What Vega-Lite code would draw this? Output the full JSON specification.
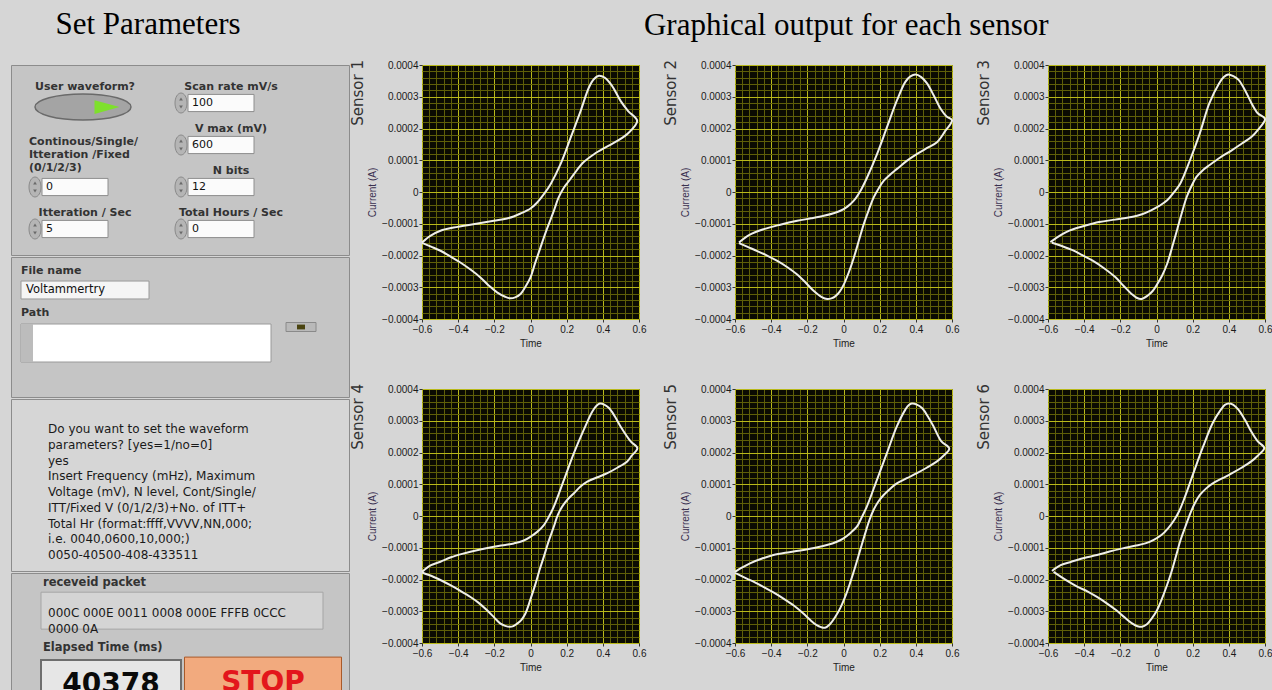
{
 "$schema": "https://vega.github.io/schema/vega-lite/v6.json",
 "background": "#d6d6d6",
 "padding": {"left": 10, "top": 8, "right": 0, "bottom": 0},
 "spacing": 0,
 "config": {
  "view": {"fill": "#0b0b02", "stroke": "#2a2a2a", "strokeWidth": 1},
  "axis": {"labelFont": "Liberation Sans Narrow, Liberation Sans, sans-serif", "labelFontSize": 10, "labelColor": "#1a1a1a", "titleFont": "Liberation Sans Narrow, Liberation Sans, sans-serif", "titleFontSize": 10, "titleFontWeight": "normal", "titleColor": "#222222", "tickSize": 3, "domain": false, "gridWidth": 1, "gridOpacity": 1, "labelPadding": 2, "titlePadding": 4},
  "axisY": {"titleColor": "#3a3050", "labelPadding": 1},
  "title": {"font": "Liberation Serif", "fontSize": 31, "fontWeight": "normal", "color": "#000000"}
 },
 "datasets": {
  "params": [
   {"col": "L", "slot": 1, "label": "User waveform?", "value": "on", "kind": "toggle"},
   {"col": "R", "slot": 1, "label": "Scan rate mV/s", "value": "100", "kind": "numeric"},
   {"col": "R", "slot": 2, "label": "V max (mV)", "value": "600", "kind": "numeric"},
   {"col": "L", "slot": 3, "label": "Continous/Single/\nItteration /Fixed\n(0/1/2/3)", "value": "0", "kind": "numeric"},
   {"col": "R", "slot": 3, "label": "N bits", "value": "12", "kind": "numeric"},
   {"col": "L", "slot": 4, "label": "Itteration / Sec", "value": "5", "kind": "numeric"},
   {"col": "R", "slot": 4, "label": "Total Hours / Sec", "value": "0", "kind": "numeric"}
  ],
  "files": [
   {"col": "L", "slot": 1, "label": "File name", "value": "Voltammertry", "kind": "string"},
   {"col": "L", "slot": 2, "label": "Path", "value": "", "kind": "path"},
   {"col": "R", "slot": 2, "label": "", "value": "", "kind": "browse"}
  ],
  "log": [
   {"col": "L", "line": 1, "text": "Do you want to set the waveform"},
   {"col": "L", "line": 2, "text": "parameters? [yes=1/no=0]"},
   {"col": "L", "line": 3, "text": "yes"},
   {"col": "L", "line": 4, "text": "Insert Frequency (mHz), Maximum"},
   {"col": "L", "line": 5, "text": "Voltage (mV), N level, Cont/Single/"},
   {"col": "L", "line": 6, "text": "ITT/Fixed V (0/1/2/3)+No. of ITT+"},
   {"col": "L", "line": 7, "text": "Total Hr (format:ffff,VVVV,NN,000;"},
   {"col": "L", "line": 8, "text": "i.e. 0040,0600,10,000;)"},
   {"col": "L", "line": 9, "text": "0050-40500-408-433511"}
  ],
  "status": [
   {"col": "L", "line": 1, "role": "label", "text": "receveid packet"},
   {"col": "L", "line": 2, "role": "packet", "text": "000C 000E 0011 0008 000E FFFB 0CCC\n0000 0A"},
   {"col": "L", "line": 3, "role": "label", "text": "Elapsed Time (ms)"},
   {"col": "L", "line": 4, "role": "readout", "text": "40378"},
   {"col": "R", "line": 4, "role": "button", "text": "STOP"}
  ],
  "cv": [
   {"sensor":"Sensor 1","n":0,"E":-0.6,"I":-0.000159},{"sensor":"Sensor 1","n":1,"E":-0.554,"I":-0.000138},{"sensor":"Sensor 1","n":2,"E":-0.498,"I":-0.000122},{"sensor":"Sensor 1","n":3,"E":-0.425,"I":-0.000112},{"sensor":"Sensor 1","n":4,"E":-0.3,"I":-0.0001},{"sensor":"Sensor 1","n":5,"E":-0.203,"I":-0.0000907},{"sensor":"Sensor 1","n":6,"E":-0.12,"I":-0.000082},{"sensor":"Sensor 1","n":7,"E":-0.055,"I":-0.0000676},{"sensor":"Sensor 1","n":8,"E":0,"I":-0.000052},{"sensor":"Sensor 1","n":9,"E":0.037,"I":-0.000033},{"sensor":"Sensor 1","n":10,"E":0.075,"I":-0.000006},{"sensor":"Sensor 1","n":11,"E":0.111,"I":0.0000246},{"sensor":"Sensor 1","n":12,"E":0.166,"I":0.0000875},{"sensor":"Sensor 1","n":13,"E":0.222,"I":0.000171},{"sensor":"Sensor 1","n":14,"E":0.277,"I":0.000255},{"sensor":"Sensor 1","n":15,"E":0.323,"I":0.000329},{"sensor":"Sensor 1","n":16,"E":0.35,"I":0.000355},{"sensor":"Sensor 1","n":17,"E":0.378,"I":0.000366},{"sensor":"Sensor 1","n":18,"E":0.41,"I":0.00036},{"sensor":"Sensor 1","n":19,"E":0.45,"I":0.000335},{"sensor":"Sensor 1","n":20,"E":0.498,"I":0.000287},{"sensor":"Sensor 1","n":21,"E":0.54,"I":0.000255},{"sensor":"Sensor 1","n":22,"E":0.59,"I":0.000224},{"sensor":"Sensor 1","n":23,"E":0.54,"I":0.000185},{"sensor":"Sensor 1","n":24,"E":0.48,"I":0.000161},{"sensor":"Sensor 1","n":25,"E":0.42,"I":0.000142},{"sensor":"Sensor 1","n":26,"E":0.351,"I":0.000119},{"sensor":"Sensor 1","n":27,"E":0.29,"I":0.000092},{"sensor":"Sensor 1","n":28,"E":0.24,"I":0.0000561},{"sensor":"Sensor 1","n":29,"E":0.21,"I":0.000033},{"sensor":"Sensor 1","n":30,"E":0.185,"I":0.0000142},{"sensor":"Sensor 1","n":31,"E":0.155,"I":-0.000018},{"sensor":"Sensor 1","n":32,"E":0.129,"I":-0.0000592},{"sensor":"Sensor 1","n":33,"E":0.09,"I":-0.000118},{"sensor":"Sensor 1","n":34,"E":0.055,"I":-0.000175},{"sensor":"Sensor 1","n":35,"E":0.025,"I":-0.000225},{"sensor":"Sensor 1","n":36,"E":0,"I":-0.000269},{"sensor":"Sensor 1","n":37,"E":-0.03,"I":-0.0003},{"sensor":"Sensor 1","n":38,"E":-0.055,"I":-0.000321},{"sensor":"Sensor 1","n":39,"E":-0.085,"I":-0.000332},{"sensor":"Sensor 1","n":40,"E":-0.111,"I":-0.000335},{"sensor":"Sensor 1","n":41,"E":-0.14,"I":-0.00033},{"sensor":"Sensor 1","n":42,"E":-0.185,"I":-0.000316},{"sensor":"Sensor 1","n":43,"E":-0.23,"I":-0.000295},{"sensor":"Sensor 1","n":44,"E":-0.277,"I":-0.000269},{"sensor":"Sensor 1","n":45,"E":-0.33,"I":-0.000245},{"sensor":"Sensor 1","n":46,"E":-0.388,"I":-0.000222},{"sensor":"Sensor 1","n":47,"E":-0.44,"I":-0.000204},{"sensor":"Sensor 1","n":48,"E":-0.498,"I":-0.000185},{"sensor":"Sensor 1","n":49,"E":-0.55,"I":-0.000172},{"sensor":"Sensor 1","n":50,"E":-0.6,"I":-0.00016},
   {"sensor":"Sensor 2","n":0,"E":-0.578,"I":-0.000159},{"sensor":"Sensor 2","n":1,"E":-0.52,"I":-0.000135},{"sensor":"Sensor 2","n":2,"E":-0.44,"I":-0.000117},{"sensor":"Sensor 2","n":3,"E":-0.35,"I":-0.000103},{"sensor":"Sensor 2","n":4,"E":-0.256,"I":-0.0000908},{"sensor":"Sensor 2","n":5,"E":-0.18,"I":-0.000083},{"sensor":"Sensor 2","n":6,"E":-0.109,"I":-0.0000749},{"sensor":"Sensor 2","n":7,"E":-0.05,"I":-0.000066},{"sensor":"Sensor 2","n":8,"E":-0.017,"I":-0.0000591},{"sensor":"Sensor 2","n":9,"E":0.02,"I":-0.000047},{"sensor":"Sensor 2","n":10,"E":0.057,"I":-0.0000274},{"sensor":"Sensor 2","n":11,"E":0.095,"I":0.000005},{"sensor":"Sensor 2","n":12,"E":0.131,"I":0.0000464},{"sensor":"Sensor 2","n":13,"E":0.186,"I":0.00012},{"sensor":"Sensor 2","n":14,"E":0.241,"I":0.000205},{"sensor":"Sensor 2","n":15,"E":0.296,"I":0.000289},{"sensor":"Sensor 2","n":16,"E":0.342,"I":0.000347},{"sensor":"Sensor 2","n":17,"E":0.37,"I":0.000364},{"sensor":"Sensor 2","n":18,"E":0.398,"I":0.00037},{"sensor":"Sensor 2","n":19,"E":0.43,"I":0.000362},{"sensor":"Sensor 2","n":20,"E":0.462,"I":0.000342},{"sensor":"Sensor 2","n":21,"E":0.5,"I":0.000303},{"sensor":"Sensor 2","n":22,"E":0.536,"I":0.000263},{"sensor":"Sensor 2","n":23,"E":0.57,"I":0.000238},{"sensor":"Sensor 2","n":24,"E":0.6,"I":0.000226},{"sensor":"Sensor 2","n":25,"E":0.56,"I":0.00019},{"sensor":"Sensor 2","n":26,"E":0.517,"I":0.000157},{"sensor":"Sensor 2","n":27,"E":0.46,"I":0.000138},{"sensor":"Sensor 2","n":28,"E":0.407,"I":0.00012},{"sensor":"Sensor 2","n":29,"E":0.35,"I":0.000098},{"sensor":"Sensor 2","n":30,"E":0.296,"I":0.0000728},{"sensor":"Sensor 2","n":31,"E":0.26,"I":0.000056},{"sensor":"Sensor 2","n":32,"E":0.223,"I":0.0000359},{"sensor":"Sensor 2","n":33,"E":0.195,"I":0.000012},{"sensor":"Sensor 2","n":34,"E":0.167,"I":-0.0000169},{"sensor":"Sensor 2","n":35,"E":0.14,"I":-0.000056},{"sensor":"Sensor 2","n":36,"E":0.112,"I":-0.000101},{"sensor":"Sensor 2","n":37,"E":0.085,"I":-0.000153},{"sensor":"Sensor 2","n":38,"E":0.057,"I":-0.000207},{"sensor":"Sensor 2","n":39,"E":0.03,"I":-0.000252},{"sensor":"Sensor 2","n":40,"E":0.002,"I":-0.000291},{"sensor":"Sensor 2","n":41,"E":-0.02,"I":-0.000313},{"sensor":"Sensor 2","n":42,"E":-0.044,"I":-0.000328},{"sensor":"Sensor 2","n":43,"E":-0.067,"I":-0.000335},{"sensor":"Sensor 2","n":44,"E":-0.09,"I":-0.000337},{"sensor":"Sensor 2","n":45,"E":-0.12,"I":-0.000331},{"sensor":"Sensor 2","n":46,"E":-0.164,"I":-0.000312},{"sensor":"Sensor 2","n":47,"E":-0.21,"I":-0.000285},{"sensor":"Sensor 2","n":48,"E":-0.256,"I":-0.00026},{"sensor":"Sensor 2","n":49,"E":-0.31,"I":-0.000237},{"sensor":"Sensor 2","n":50,"E":-0.366,"I":-0.000217},{"sensor":"Sensor 2","n":51,"E":-0.42,"I":-0.000201},{"sensor":"Sensor 2","n":52,"E":-0.477,"I":-0.000186},{"sensor":"Sensor 2","n":53,"E":-0.53,"I":-0.000173},{"sensor":"Sensor 2","n":54,"E":-0.578,"I":-0.000161},
   {"sensor":"Sensor 3","n":0,"E":-0.587,"I":-0.000158},{"sensor":"Sensor 3","n":1,"E":-0.53,"I":-0.000136},{"sensor":"Sensor 3","n":2,"E":-0.479,"I":-0.000121},{"sensor":"Sensor 3","n":3,"E":-0.4,"I":-0.000107},{"sensor":"Sensor 3","n":4,"E":-0.317,"I":-0.0000947},{"sensor":"Sensor 3","n":5,"E":-0.23,"I":-0.000087},{"sensor":"Sensor 3","n":6,"E":-0.138,"I":-0.0000789},{"sensor":"Sensor 3","n":7,"E":-0.08,"I":-0.00007},{"sensor":"Sensor 3","n":8,"E":-0.03,"I":-0.0000579},{"sensor":"Sensor 3","n":9,"E":0.015,"I":-0.000044},{"sensor":"Sensor 3","n":10,"E":0.059,"I":-0.0000263},{"sensor":"Sensor 3","n":11,"E":0.095,"I":-0.000002},{"sensor":"Sensor 3","n":12,"E":0.131,"I":0.0000263},{"sensor":"Sensor 3","n":13,"E":0.185,"I":0.0001},{"sensor":"Sensor 3","n":14,"E":0.239,"I":0.000184},{"sensor":"Sensor 3","n":15,"E":0.292,"I":0.000279},{"sensor":"Sensor 3","n":16,"E":0.346,"I":0.000342},{"sensor":"Sensor 3","n":17,"E":0.372,"I":0.000362},{"sensor":"Sensor 3","n":18,"E":0.396,"I":0.00037},{"sensor":"Sensor 3","n":19,"E":0.425,"I":0.000365},{"sensor":"Sensor 3","n":20,"E":0.454,"I":0.000353},{"sensor":"Sensor 3","n":21,"E":0.49,"I":0.00032},{"sensor":"Sensor 3","n":22,"E":0.526,"I":0.000279},{"sensor":"Sensor 3","n":23,"E":0.56,"I":0.000248},{"sensor":"Sensor 3","n":24,"E":0.6,"I":0.00023},{"sensor":"Sensor 3","n":25,"E":0.56,"I":0.000195},{"sensor":"Sensor 3","n":26,"E":0.526,"I":0.000174},{"sensor":"Sensor 3","n":27,"E":0.47,"I":0.000152},{"sensor":"Sensor 3","n":28,"E":0.418,"I":0.000132},{"sensor":"Sensor 3","n":29,"E":0.35,"I":0.000108},{"sensor":"Sensor 3","n":30,"E":0.292,"I":0.0000842},{"sensor":"Sensor 3","n":31,"E":0.255,"I":0.000068},{"sensor":"Sensor 3","n":32,"E":0.221,"I":0.0000474},{"sensor":"Sensor 3","n":33,"E":0.193,"I":0.000018},{"sensor":"Sensor 3","n":34,"E":0.167,"I":-0.0000158},{"sensor":"Sensor 3","n":35,"E":0.14,"I":-0.000066},{"sensor":"Sensor 3","n":36,"E":0.113,"I":-0.000121},{"sensor":"Sensor 3","n":37,"E":0.086,"I":-0.000175},{"sensor":"Sensor 3","n":38,"E":0.059,"I":-0.000226},{"sensor":"Sensor 3","n":39,"E":0.032,"I":-0.000262},{"sensor":"Sensor 3","n":40,"E":0.005,"I":-0.000289},{"sensor":"Sensor 3","n":41,"E":-0.02,"I":-0.000311},{"sensor":"Sensor 3","n":42,"E":-0.048,"I":-0.000326},{"sensor":"Sensor 3","n":43,"E":-0.084,"I":-0.000337},{"sensor":"Sensor 3","n":44,"E":-0.11,"I":-0.000333},{"sensor":"Sensor 3","n":45,"E":-0.138,"I":-0.000321},{"sensor":"Sensor 3","n":46,"E":-0.18,"I":-0.000297},{"sensor":"Sensor 3","n":47,"E":-0.228,"I":-0.000268},{"sensor":"Sensor 3","n":48,"E":-0.29,"I":-0.00024},{"sensor":"Sensor 3","n":49,"E":-0.353,"I":-0.000216},{"sensor":"Sensor 3","n":50,"E":-0.41,"I":-0.000199},{"sensor":"Sensor 3","n":51,"E":-0.461,"I":-0.000184},{"sensor":"Sensor 3","n":52,"E":-0.52,"I":-0.000171},{"sensor":"Sensor 3","n":53,"E":-0.578,"I":-0.00016},
   {"sensor":"Sensor 4","n":0,"E":-0.6,"I":-0.000176},{"sensor":"Sensor 4","n":1,"E":-0.55,"I":-0.000155},{"sensor":"Sensor 4","n":2,"E":-0.498,"I":-0.000144},{"sensor":"Sensor 4","n":3,"E":-0.44,"I":-0.00013},{"sensor":"Sensor 4","n":4,"E":-0.369,"I":-0.000118},{"sensor":"Sensor 4","n":5,"E":-0.29,"I":-0.000107},{"sensor":"Sensor 4","n":6,"E":-0.203,"I":-0.0000968},{"sensor":"Sensor 4","n":7,"E":-0.14,"I":-0.000091},{"sensor":"Sensor 4","n":8,"E":-0.092,"I":-0.0000863},{"sensor":"Sensor 4","n":9,"E":-0.04,"I":-0.000078},{"sensor":"Sensor 4","n":10,"E":0,"I":-0.0000653},{"sensor":"Sensor 4","n":11,"E":0.037,"I":-0.00005},{"sensor":"Sensor 4","n":12,"E":0.074,"I":-0.0000284},{"sensor":"Sensor 4","n":13,"E":0.1,"I":-0.000004},{"sensor":"Sensor 4","n":14,"E":0.129,"I":0.0000295},{"sensor":"Sensor 4","n":15,"E":0.185,"I":0.000114},{"sensor":"Sensor 4","n":16,"E":0.24,"I":0.000198},{"sensor":"Sensor 4","n":17,"E":0.295,"I":0.000272},{"sensor":"Sensor 4","n":18,"E":0.342,"I":0.000329},{"sensor":"Sensor 4","n":19,"E":0.365,"I":0.000347},{"sensor":"Sensor 4","n":20,"E":0.384,"I":0.000354},{"sensor":"Sensor 4","n":21,"E":0.41,"I":0.00035},{"sensor":"Sensor 4","n":22,"E":0.434,"I":0.00034},{"sensor":"Sensor 4","n":23,"E":0.465,"I":0.000315},{"sensor":"Sensor 4","n":24,"E":0.498,"I":0.000282},{"sensor":"Sensor 4","n":25,"E":0.554,"I":0.000235},{"sensor":"Sensor 4","n":26,"E":0.591,"I":0.000214},{"sensor":"Sensor 4","n":27,"E":0.56,"I":0.00019},{"sensor":"Sensor 4","n":28,"E":0.535,"I":0.000172},{"sensor":"Sensor 4","n":29,"E":0.48,"I":0.000152},{"sensor":"Sensor 4","n":30,"E":0.425,"I":0.000135},{"sensor":"Sensor 4","n":31,"E":0.37,"I":0.000122},{"sensor":"Sensor 4","n":32,"E":0.314,"I":0.000108},{"sensor":"Sensor 4","n":33,"E":0.275,"I":0.000092},{"sensor":"Sensor 4","n":34,"E":0.24,"I":0.0000716},{"sensor":"Sensor 4","n":35,"E":0.205,"I":0.000052},{"sensor":"Sensor 4","n":36,"E":0.175,"I":0.0000295},{"sensor":"Sensor 4","n":37,"E":0.15,"I":0.000002},{"sensor":"Sensor 4","n":38,"E":0.129,"I":-0.0000337},{"sensor":"Sensor 4","n":39,"E":0.1,"I":-0.00008},{"sensor":"Sensor 4","n":40,"E":0.074,"I":-0.000128},{"sensor":"Sensor 4","n":41,"E":0.05,"I":-0.00017},{"sensor":"Sensor 4","n":42,"E":0.028,"I":-0.000213},{"sensor":"Sensor 4","n":43,"E":0,"I":-0.000262},{"sensor":"Sensor 4","n":44,"E":-0.028,"I":-0.000307},{"sensor":"Sensor 4","n":45,"E":-0.05,"I":-0.000327},{"sensor":"Sensor 4","n":46,"E":-0.074,"I":-0.000339},{"sensor":"Sensor 4","n":47,"E":-0.095,"I":-0.000347},{"sensor":"Sensor 4","n":48,"E":-0.114,"I":-0.000349},{"sensor":"Sensor 4","n":49,"E":-0.14,"I":-0.000346},{"sensor":"Sensor 4","n":50,"E":-0.166,"I":-0.000339},{"sensor":"Sensor 4","n":51,"E":-0.2,"I":-0.00032},{"sensor":"Sensor 4","n":52,"E":-0.24,"I":-0.000297},{"sensor":"Sensor 4","n":53,"E":-0.29,"I":-0.000272},{"sensor":"Sensor 4","n":54,"E":-0.332,"I":-0.000255},{"sensor":"Sensor 4","n":55,"E":-0.39,"I":-0.000235},{"sensor":"Sensor 4","n":56,"E":-0.443,"I":-0.000218},{"sensor":"Sensor 4","n":57,"E":-0.49,"I":-0.000204},{"sensor":"Sensor 4","n":58,"E":-0.535,"I":-0.000192},{"sensor":"Sensor 4","n":59,"E":-0.6,"I":-0.000178},
   {"sensor":"Sensor 5","n":0,"E":-0.6,"I":-0.000176},{"sensor":"Sensor 5","n":1,"E":-0.56,"I":-0.000162},{"sensor":"Sensor 5","n":2,"E":-0.517,"I":-0.000149},{"sensor":"Sensor 5","n":3,"E":-0.45,"I":-0.000134},{"sensor":"Sensor 5","n":4,"E":-0.388,"I":-0.000123},{"sensor":"Sensor 5","n":5,"E":-0.3,"I":-0.000114},{"sensor":"Sensor 5","n":6,"E":-0.222,"I":-0.000107},{"sensor":"Sensor 5","n":7,"E":-0.15,"I":-0.0000995},{"sensor":"Sensor 5","n":8,"E":-0.092,"I":-0.0000916},{"sensor":"Sensor 5","n":9,"E":-0.04,"I":-0.000082},{"sensor":"Sensor 5","n":10,"E":0,"I":-0.0000705},{"sensor":"Sensor 5","n":11,"E":0.037,"I":-0.000054},{"sensor":"Sensor 5","n":12,"E":0.074,"I":-0.0000337},{"sensor":"Sensor 5","n":13,"E":0.1,"I":-0.000005},{"sensor":"Sensor 5","n":14,"E":0.129,"I":0.0000295},{"sensor":"Sensor 5","n":15,"E":0.185,"I":0.000114},{"sensor":"Sensor 5","n":16,"E":0.24,"I":0.000198},{"sensor":"Sensor 5","n":17,"E":0.295,"I":0.000282},{"sensor":"Sensor 5","n":18,"E":0.342,"I":0.000335},{"sensor":"Sensor 5","n":19,"E":0.36,"I":0.000349},{"sensor":"Sensor 5","n":20,"E":0.378,"I":0.000354},{"sensor":"Sensor 5","n":21,"E":0.405,"I":0.000351},{"sensor":"Sensor 5","n":22,"E":0.434,"I":0.00034},{"sensor":"Sensor 5","n":23,"E":0.465,"I":0.000315},{"sensor":"Sensor 5","n":24,"E":0.498,"I":0.000282},{"sensor":"Sensor 5","n":25,"E":0.54,"I":0.000236},{"sensor":"Sensor 5","n":26,"E":0.585,"I":0.000212},{"sensor":"Sensor 5","n":27,"E":0.55,"I":0.000188},{"sensor":"Sensor 5","n":28,"E":0.517,"I":0.000172},{"sensor":"Sensor 5","n":29,"E":0.46,"I":0.000152},{"sensor":"Sensor 5","n":30,"E":0.406,"I":0.000135},{"sensor":"Sensor 5","n":31,"E":0.35,"I":0.000119},{"sensor":"Sensor 5","n":32,"E":0.295,"I":0.000103},{"sensor":"Sensor 5","n":33,"E":0.26,"I":0.000087},{"sensor":"Sensor 5","n":34,"E":0.222,"I":0.0000663},{"sensor":"Sensor 5","n":35,"E":0.192,"I":0.000045},{"sensor":"Sensor 5","n":36,"E":0.166,"I":0.0000189},{"sensor":"Sensor 5","n":37,"E":0.142,"I":-0.000015},{"sensor":"Sensor 5","n":38,"E":0.12,"I":-0.0000547},{"sensor":"Sensor 5","n":39,"E":0.093,"I":-0.000106},{"sensor":"Sensor 5","n":40,"E":0.065,"I":-0.00016},{"sensor":"Sensor 5","n":41,"E":0.037,"I":-0.00021},{"sensor":"Sensor 5","n":42,"E":0.009,"I":-0.000255},{"sensor":"Sensor 5","n":43,"E":-0.018,"I":-0.00029},{"sensor":"Sensor 5","n":44,"E":-0.046,"I":-0.000318},{"sensor":"Sensor 5","n":45,"E":-0.075,"I":-0.000341},{"sensor":"Sensor 5","n":46,"E":-0.102,"I":-0.000352},{"sensor":"Sensor 5","n":47,"E":-0.125,"I":-0.00035},{"sensor":"Sensor 5","n":48,"E":-0.148,"I":-0.000344},{"sensor":"Sensor 5","n":49,"E":-0.185,"I":-0.000327},{"sensor":"Sensor 5","n":50,"E":-0.222,"I":-0.000307},{"sensor":"Sensor 5","n":51,"E":-0.275,"I":-0.000282},{"sensor":"Sensor 5","n":52,"E":-0.332,"I":-0.00026},{"sensor":"Sensor 5","n":53,"E":-0.39,"I":-0.00024},{"sensor":"Sensor 5","n":54,"E":-0.443,"I":-0.000223},{"sensor":"Sensor 5","n":55,"E":-0.49,"I":-0.000209},{"sensor":"Sensor 5","n":56,"E":-0.535,"I":-0.000197},{"sensor":"Sensor 5","n":57,"E":-0.6,"I":-0.000179},
   {"sensor":"Sensor 6","n":0,"E":-0.578,"I":-0.000173},{"sensor":"Sensor 6","n":1,"E":-0.53,"I":-0.000155},{"sensor":"Sensor 6","n":2,"E":-0.471,"I":-0.000144},{"sensor":"Sensor 6","n":3,"E":-0.4,"I":-0.000132},{"sensor":"Sensor 6","n":4,"E":-0.329,"I":-0.000123},{"sensor":"Sensor 6","n":5,"E":-0.26,"I":-0.000112},{"sensor":"Sensor 6","n":6,"E":-0.187,"I":-0.000102},{"sensor":"Sensor 6","n":7,"E":-0.12,"I":-0.000094},{"sensor":"Sensor 6","n":8,"E":-0.062,"I":-0.0000863},{"sensor":"Sensor 6","n":9,"E":-0.015,"I":-0.000075},{"sensor":"Sensor 6","n":10,"E":0.027,"I":-0.00006},{"sensor":"Sensor 6","n":11,"E":0.065,"I":-0.000038},{"sensor":"Sensor 6","n":12,"E":0.098,"I":-0.0000126},{"sensor":"Sensor 6","n":13,"E":0.125,"I":0.000015},{"sensor":"Sensor 6","n":14,"E":0.151,"I":0.0000505},{"sensor":"Sensor 6","n":15,"E":0.204,"I":0.000135},{"sensor":"Sensor 6","n":16,"E":0.258,"I":0.000219},{"sensor":"Sensor 6","n":17,"E":0.311,"I":0.000293},{"sensor":"Sensor 6","n":18,"E":0.356,"I":0.000335},{"sensor":"Sensor 6","n":19,"E":0.378,"I":0.00035},{"sensor":"Sensor 6","n":20,"E":0.4,"I":0.000354},{"sensor":"Sensor 6","n":21,"E":0.425,"I":0.00035},{"sensor":"Sensor 6","n":22,"E":0.453,"I":0.000335},{"sensor":"Sensor 6","n":23,"E":0.49,"I":0.000302},{"sensor":"Sensor 6","n":24,"E":0.524,"I":0.000266},{"sensor":"Sensor 6","n":25,"E":0.56,"I":0.000235},{"sensor":"Sensor 6","n":26,"E":0.596,"I":0.000214},{"sensor":"Sensor 6","n":27,"E":0.56,"I":0.00019},{"sensor":"Sensor 6","n":28,"E":0.524,"I":0.000172},{"sensor":"Sensor 6","n":29,"E":0.47,"I":0.000152},{"sensor":"Sensor 6","n":30,"E":0.418,"I":0.000135},{"sensor":"Sensor 6","n":31,"E":0.365,"I":0.000119},{"sensor":"Sensor 6","n":32,"E":0.311,"I":0.000103},{"sensor":"Sensor 6","n":33,"E":0.275,"I":0.000087},{"sensor":"Sensor 6","n":34,"E":0.24,"I":0.0000663},{"sensor":"Sensor 6","n":35,"E":0.212,"I":0.00004},{"sensor":"Sensor 6","n":36,"E":0.187,"I":0.0000084},{"sensor":"Sensor 6","n":37,"E":0.16,"I":-0.000033},{"sensor":"Sensor 6","n":38,"E":0.133,"I":-0.0000758},{"sensor":"Sensor 6","n":39,"E":0.107,"I":-0.000128},{"sensor":"Sensor 6","n":40,"E":0.08,"I":-0.000181},{"sensor":"Sensor 6","n":41,"E":0.053,"I":-0.000226},{"sensor":"Sensor 6","n":42,"E":0.027,"I":-0.000265},{"sensor":"Sensor 6","n":43,"E":0,"I":-0.0003},{"sensor":"Sensor 6","n":44,"E":-0.027,"I":-0.000323},{"sensor":"Sensor 6","n":45,"E":-0.053,"I":-0.000341},{"sensor":"Sensor 6","n":46,"E":-0.08,"I":-0.000349},{"sensor":"Sensor 6","n":47,"E":-0.105,"I":-0.000347},{"sensor":"Sensor 6","n":48,"E":-0.133,"I":-0.000339},{"sensor":"Sensor 6","n":49,"E":-0.175,"I":-0.00032},{"sensor":"Sensor 6","n":50,"E":-0.222,"I":-0.000297},{"sensor":"Sensor 6","n":51,"E":-0.275,"I":-0.000275},{"sensor":"Sensor 6","n":52,"E":-0.329,"I":-0.000255},{"sensor":"Sensor 6","n":53,"E":-0.38,"I":-0.000238},{"sensor":"Sensor 6","n":54,"E":-0.436,"I":-0.000223},{"sensor":"Sensor 6","n":55,"E":-0.5,"I":-0.000202},{"sensor":"Sensor 6","n":56,"E":-0.569,"I":-0.000176}
  ]
 },
 "hconcat": [
  {
   "title": {"text": "Set Parameters", "anchor": "middle", "dx": -32, "offset": 24},
   "spacing": 0,
   "vconcat": [
    {
     "width": 338, "height": 190,
     "view": {"fill": "#c5c5c5", "stroke": "#8c8c8c"},
     "data": {"name": "params"},
     "encoding": {
      "x": {"field": "col", "type": "nominal", "scale": {"type": "point", "domain": ["L", "R"], "range": [56, 202], "padding": 0}, "axis": null},
      "y": {"field": "slot", "type": "ordinal", "scale": {"type": "point", "domain": [1, 2, 3, 4], "range": [38, 164], "padding": 0}, "axis": null}
     },
     "layer": [
      {"transform": [{"filter": "datum.kind === 'toggle'"}], "mark": {"type": "point", "shape": "M-1,0A1,0.27 0 1,1 1,0A1,0.27 0 1,1 -1,0Z", "size": 9216, "filled": true, "color": "#a4a4a4", "stroke": "#6a6a6a", "strokeWidth": 1.5, "opacity": 1, "xOffset": 16, "yOffset": 4}},
      {"transform": [{"filter": "datum.kind === 'toggle'"}], "mark": {"type": "point", "shape": "M-1,-0.55L1,0L-1,0.55Z", "size": 625, "filled": true, "color": "#7ee02c", "opacity": 1, "xOffset": 40, "yOffset": 4}},
      {"transform": [{"filter": "datum.kind === 'numeric'"}], "mark": {"type": "point", "shape": "M0,-1A0.6,1 0 1,1 0,1A0.6,1 0 1,1 0,-1Z", "size": 400, "filled": true, "color": "#b5b5b5", "stroke": "#8a8a8a", "strokeWidth": 1, "opacity": 1, "xOffset": -32}},
      {"transform": [{"filter": "datum.kind === 'numeric'"}], "mark": {"type": "point", "shape": "triangle-up", "size": 14, "filled": true, "color": "#6a6a6a", "opacity": 1, "xOffset": -32, "yOffset": -4}},
      {"transform": [{"filter": "datum.kind === 'numeric'"}], "mark": {"type": "point", "shape": "triangle-down", "size": 14, "filled": true, "color": "#6a6a6a", "opacity": 1, "xOffset": -32, "yOffset": 4}},
      {"transform": [{"filter": "datum.kind === 'numeric'"}], "mark": {"type": "point", "shape": "M-1,-0.26H1V0.26H-1Z", "size": 4356, "filled": true, "color": "#fbfbfb", "stroke": "#8e8e8e", "strokeWidth": 1, "opacity": 1, "xOffset": 8}},
      {"transform": [{"filter": "datum.kind === 'numeric'"}], "mark": {"type": "text", "align": "left", "baseline": "middle", "dx": -21, "font": "DejaVu Sans", "fontSize": 11, "color": "#111111"}, "encoding": {"text": {"field": "value"}}},
      {"transform": [{"filter": "indexof(datum.label, '/Fixed') < 0"}], "mark": {"type": "text", "align": "center", "baseline": "bottom", "dx": 18, "dy": -11, "font": "DejaVu Sans", "fontSize": 11, "fontWeight": "bold", "color": "#333333"}, "encoding": {"text": {"field": "label"}}},
      {"transform": [{"filter": "indexof(datum.label, '/Fixed') >= 0"}], "mark": {"type": "text", "align": "left", "baseline": "bottom", "dx": -38, "dy": -40, "font": "DejaVu Sans", "fontSize": 11, "fontWeight": "bold", "color": "#333333", "lineBreak": "\n", "lineHeight": 13}, "encoding": {"text": {"field": "label"}}}
     ]
    },
    {
     "width": 338, "height": 140,
     "view": {"fill": "#c5c5c5", "stroke": "#8c8c8c"},
     "data": {"name": "files"},
     "encoding": {
      "x": {"field": "col", "type": "nominal", "scale": {"type": "point", "domain": ["L", "R"], "range": [10, 290], "padding": 0}, "axis": null},
      "y": {"field": "slot", "type": "ordinal", "scale": {"type": "point", "domain": [1, 2], "range": [14, 56], "padding": 0}, "axis": null}
     },
     "layer": [
      {"transform": [{"filter": "datum.kind !== 'browse'"}], "mark": {"type": "text", "align": "left", "baseline": "middle", "font": "DejaVu Sans", "fontSize": 11, "fontWeight": "bold", "color": "#333333"}, "encoding": {"text": {"field": "label"}}},
      {"transform": [{"filter": "datum.kind === 'string'"}], "mark": {"type": "point", "shape": "M-1,-0.14H1V0.14H-1Z", "size": 16384, "filled": true, "color": "#f5f5f5", "stroke": "#9a9a9a", "strokeWidth": 1, "opacity": 1, "xOffset": 64, "yOffset": 19}},
      {"transform": [{"filter": "datum.kind === 'string'"}], "mark": {"type": "text", "align": "left", "baseline": "middle", "dx": 5, "dy": 19, "font": "DejaVu Sans", "fontSize": 11.5, "color": "#111111"}, "encoding": {"text": {"field": "value"}}},
      {"transform": [{"filter": "datum.kind === 'path'"}], "mark": {"type": "point", "shape": "M-1,-0.152H1V0.152H-1Z", "size": 62500, "filled": true, "color": "#ffffff", "stroke": "#9a9a9a", "strokeWidth": 1, "opacity": 1, "xOffset": 125, "yOffset": 30}},
      {"transform": [{"filter": "datum.kind === 'path'"}], "mark": {"type": "point", "shape": "M-0.316,-1H0.316V1H-0.316Z", "size": 1444, "filled": true, "color": "#bcbcbc", "opacity": 1, "xOffset": 6, "yOffset": 30}},
      {"transform": [{"filter": "datum.kind === 'browse'"}], "mark": {"type": "point", "shape": "M-1,-0.3H1V0.3H-1Z", "size": 900, "filled": true, "color": "#b9b9b9", "stroke": "#8a8a8a", "strokeWidth": 1, "opacity": 1, "yOffset": 14}},
      {"transform": [{"filter": "datum.kind === 'browse'"}], "mark": {"type": "point", "shape": "M-1,-0.6H1V0.6H-1Z", "size": 64, "filled": true, "color": "#4a4410", "opacity": 1, "yOffset": 14}}
     ]
    },
    {
     "width": 338, "height": 172,
     "view": {"fill": "#d6d6d6", "stroke": "#8c8c8c"},
     "data": {"name": "log"},
     "mark": {"type": "text", "align": "left", "baseline": "middle", "font": "DejaVu Sans", "fontSize": 12, "color": "#1a1a1a"},
     "encoding": {
      "x": {"field": "col", "type": "nominal", "scale": {"type": "point", "domain": ["L"], "range": [37, 37], "padding": 0}, "axis": null},
      "y": {"field": "line", "type": "ordinal", "scale": {"type": "point", "domain": [1, 2, 3, 4, 5, 6, 7, 8, 9], "range": [30, 156], "padding": 0}, "axis": null},
      "text": {"field": "text"}
     }
    },
    {
     "width": 338, "height": 125,
     "view": {"fill": "#c5c5c5", "stroke": "#8c8c8c"},
     "data": {"name": "status"},
     "encoding": {
      "x": {"field": "col", "type": "nominal", "scale": {"type": "point", "domain": ["L", "R"], "range": [100, 252], "padding": 0}, "axis": null},
      "y": {"field": "line", "type": "ordinal", "scale": {"type": "point", "domain": [1, 2, 3, 4], "range": [10, 108], "padding": 0}, "axis": null}
     },
     "layer": [
      {"transform": [{"filter": "datum.role === 'label'"}], "mark": {"type": "text", "align": "left", "baseline": "middle", "dx": -68, "font": "DejaVu Sans", "fontSize": 11.5, "fontWeight": "bold", "color": "#333333"}, "encoding": {"text": {"field": "text"}}},
      {"transform": [{"filter": "datum.role === 'packet'"}], "mark": {"type": "point", "shape": "M-1,-0.131H1V0.131H-1Z", "size": 79524, "filled": true, "color": "#d4d4d4", "stroke": "#a5a5a5", "strokeWidth": 1, "opacity": 1, "xOffset": 71, "yOffset": -5}},
      {"transform": [{"filter": "datum.role === 'packet'"}], "mark": {"type": "text", "align": "left", "baseline": "middle", "dx": -63, "dy": -3, "font": "DejaVu Sans", "fontSize": 12, "color": "#1a1a1a", "lineBreak": "\n", "lineHeight": 16}, "encoding": {"text": {"field": "text"}}},
      {"transform": [{"filter": "datum.role === 'readout'"}], "mark": {"type": "point", "shape": "M-1,-0.357H1V0.357H-1Z", "size": 19600, "filled": true, "color": "#e6e6e6", "stroke": "#6e6e6e", "strokeWidth": 2, "opacity": 1, "yOffset": 4}},
      {"transform": [{"filter": "datum.role === 'readout'"}], "mark": {"type": "text", "align": "center", "baseline": "middle", "dy": 4, "font": "DejaVu Sans", "fontSize": 28, "fontWeight": "bold", "color": "#0a0a0a"}, "encoding": {"text": {"field": "text"}}},
      {"transform": [{"filter": "datum.role === 'button'"}], "mark": {"type": "point", "shape": "M-1,-0.33H1V0.33H-1Z", "size": 24649, "filled": true, "color": "#f2aa7e", "stroke": "#a85a2a", "strokeWidth": 1, "opacity": 1, "yOffset": 2}},
      {"transform": [{"filter": "datum.role === 'button'"}], "mark": {"type": "text", "align": "center", "baseline": "middle", "dy": 2, "font": "DejaVu Sans", "fontSize": 28, "fontWeight": "bold", "color": "#e3161c"}, "encoding": {"text": {"field": "text"}}}
     ]
    }
   ]
  },
  {
   "title": {"text": "Graphical output for each sensor", "anchor": "middle", "dx": 35, "offset": 18},
   "columns": 3,
   "spacing": {"row": 34, "column": 16},
   "concat": [
    {"width": 217, "height": 254, "title": {"text": "Sensor 1", "orient": "left", "anchor": "end", "font": "DejaVu Sans", "fontSize": 15, "fontWeight": "normal", "color": "#333333", "offset": 2}, "data": {"name": "cv"}, "transform": [{"filter": "datum.sensor === 'Sensor 1'"}], "mark": {"type": "line", "color": "#efefe9", "strokeWidth": 2, "interpolate": "catmull-rom"},
     "encoding": {
      "x": {"field": "E", "type": "quantitative", "scale": {"domain": [-0.6, 0.6], "nice": false, "zero": false}, "axis": {"title": "Time", "values": [-0.6,-0.56,-0.52,-0.48,-0.44,-0.4,-0.36,-0.32,-0.28,-0.24,-0.2,-0.16,-0.12,-0.08,-0.04,0,0.04,0.08,0.12,0.16,0.2,0.24,0.28,0.32,0.36,0.4,0.44,0.48,0.52,0.56,0.6], "format": "~g", "labelFlush": false, "labelOverlap": false, "labelExpr": "abs(datum.value*5-round(datum.value*5))<0.000001 ? datum.label : ''", "gridColor": {"condition": {"test": "abs(datum.value*5-round(datum.value*5))<0.000001", "value": "#b9b91a"}, "value": "#5f5f08"}, "tickColor": {"condition": {"test": "abs(datum.value*5-round(datum.value*5))<0.000001", "value": "#333333"}, "value": "transparent"}}},
      "y": {"field": "I", "type": "quantitative", "scale": {"domain": [-0.0004, 0.0004], "nice": false, "zero": false}, "axis": {"title": "Current (A)", "values": [-0.0004,-0.00038,-0.00036,-0.00034,-0.00032,-0.0003,-0.00028,-0.00026,-0.00024,-0.00022,-0.0002,-0.00018,-0.00016,-0.00014,-0.00012,-0.0001,-0.00008,-0.00006,-0.00004,-0.00002,0,0.00002,0.00004,0.00006,0.00008,0.0001,0.00012,0.00014,0.00016,0.00018,0.0002,0.00022,0.00024,0.00026,0.00028,0.0003,0.00032,0.00034,0.00036,0.00038,0.0004], "format": "~g", "labelFlush": false, "labelOverlap": false, "labelExpr": "abs(datum.value*10000-round(datum.value*10000))<0.000001 ? datum.label : ''", "gridColor": {"condition": {"test": "abs(datum.value*10000-round(datum.value*10000))<0.000001", "value": "#b9b91a"}, "value": "#5f5f08"}, "tickColor": {"condition": {"test": "abs(datum.value*10000-round(datum.value*10000))<0.000001", "value": "#333333"}, "value": "transparent"}}},
      "order": {"field": "n", "type": "quantitative"}
     }},
    {"width": 217, "height": 254, "title": {"text": "Sensor 2", "orient": "left", "anchor": "end", "font": "DejaVu Sans", "fontSize": 15, "fontWeight": "normal", "color": "#333333", "offset": 2}, "data": {"name": "cv"}, "transform": [{"filter": "datum.sensor === 'Sensor 2'"}], "mark": {"type": "line", "color": "#efefe9", "strokeWidth": 2, "interpolate": "catmull-rom"},
     "encoding": {
      "x": {"field": "E", "type": "quantitative", "scale": {"domain": [-0.6, 0.6], "nice": false, "zero": false}, "axis": {"title": "Time", "values": [-0.6,-0.56,-0.52,-0.48,-0.44,-0.4,-0.36,-0.32,-0.28,-0.24,-0.2,-0.16,-0.12,-0.08,-0.04,0,0.04,0.08,0.12,0.16,0.2,0.24,0.28,0.32,0.36,0.4,0.44,0.48,0.52,0.56,0.6], "format": "~g", "labelFlush": false, "labelOverlap": false, "labelExpr": "abs(datum.value*5-round(datum.value*5))<0.000001 ? datum.label : ''", "gridColor": {"condition": {"test": "abs(datum.value*5-round(datum.value*5))<0.000001", "value": "#b9b91a"}, "value": "#5f5f08"}, "tickColor": {"condition": {"test": "abs(datum.value*5-round(datum.value*5))<0.000001", "value": "#333333"}, "value": "transparent"}}},
      "y": {"field": "I", "type": "quantitative", "scale": {"domain": [-0.0004, 0.0004], "nice": false, "zero": false}, "axis": {"title": "Current (A)", "values": [-0.0004,-0.00038,-0.00036,-0.00034,-0.00032,-0.0003,-0.00028,-0.00026,-0.00024,-0.00022,-0.0002,-0.00018,-0.00016,-0.00014,-0.00012,-0.0001,-0.00008,-0.00006,-0.00004,-0.00002,0,0.00002,0.00004,0.00006,0.00008,0.0001,0.00012,0.00014,0.00016,0.00018,0.0002,0.00022,0.00024,0.00026,0.00028,0.0003,0.00032,0.00034,0.00036,0.00038,0.0004], "format": "~g", "labelFlush": false, "labelOverlap": false, "labelExpr": "abs(datum.value*10000-round(datum.value*10000))<0.000001 ? datum.label : ''", "gridColor": {"condition": {"test": "abs(datum.value*10000-round(datum.value*10000))<0.000001", "value": "#b9b91a"}, "value": "#5f5f08"}, "tickColor": {"condition": {"test": "abs(datum.value*10000-round(datum.value*10000))<0.000001", "value": "#333333"}, "value": "transparent"}}},
      "order": {"field": "n", "type": "quantitative"}
     }},
    {"width": 217, "height": 254, "title": {"text": "Sensor 3", "orient": "left", "anchor": "end", "font": "DejaVu Sans", "fontSize": 15, "fontWeight": "normal", "color": "#333333", "offset": 2}, "data": {"name": "cv"}, "transform": [{"filter": "datum.sensor === 'Sensor 3'"}], "mark": {"type": "line", "color": "#efefe9", "strokeWidth": 2, "interpolate": "catmull-rom"},
     "encoding": {
      "x": {"field": "E", "type": "quantitative", "scale": {"domain": [-0.6, 0.6], "nice": false, "zero": false}, "axis": {"title": "Time", "values": [-0.6,-0.56,-0.52,-0.48,-0.44,-0.4,-0.36,-0.32,-0.28,-0.24,-0.2,-0.16,-0.12,-0.08,-0.04,0,0.04,0.08,0.12,0.16,0.2,0.24,0.28,0.32,0.36,0.4,0.44,0.48,0.52,0.56,0.6], "format": "~g", "labelFlush": false, "labelOverlap": false, "labelExpr": "abs(datum.value*5-round(datum.value*5))<0.000001 ? datum.label : ''", "gridColor": {"condition": {"test": "abs(datum.value*5-round(datum.value*5))<0.000001", "value": "#b9b91a"}, "value": "#5f5f08"}, "tickColor": {"condition": {"test": "abs(datum.value*5-round(datum.value*5))<0.000001", "value": "#333333"}, "value": "transparent"}}},
      "y": {"field": "I", "type": "quantitative", "scale": {"domain": [-0.0004, 0.0004], "nice": false, "zero": false}, "axis": {"title": "Current (A)", "values": [-0.0004,-0.00038,-0.00036,-0.00034,-0.00032,-0.0003,-0.00028,-0.00026,-0.00024,-0.00022,-0.0002,-0.00018,-0.00016,-0.00014,-0.00012,-0.0001,-0.00008,-0.00006,-0.00004,-0.00002,0,0.00002,0.00004,0.00006,0.00008,0.0001,0.00012,0.00014,0.00016,0.00018,0.0002,0.00022,0.00024,0.00026,0.00028,0.0003,0.00032,0.00034,0.00036,0.00038,0.0004], "format": "~g", "labelFlush": false, "labelOverlap": false, "labelExpr": "abs(datum.value*10000-round(datum.value*10000))<0.000001 ? datum.label : ''", "gridColor": {"condition": {"test": "abs(datum.value*10000-round(datum.value*10000))<0.000001", "value": "#b9b91a"}, "value": "#5f5f08"}, "tickColor": {"condition": {"test": "abs(datum.value*10000-round(datum.value*10000))<0.000001", "value": "#333333"}, "value": "transparent"}}},
      "order": {"field": "n", "type": "quantitative"}
     }},
    {"width": 217, "height": 254, "title": {"text": "Sensor 4", "orient": "left", "anchor": "end", "font": "DejaVu Sans", "fontSize": 15, "fontWeight": "normal", "color": "#333333", "offset": 2}, "data": {"name": "cv"}, "transform": [{"filter": "datum.sensor === 'Sensor 4'"}], "mark": {"type": "line", "color": "#efefe9", "strokeWidth": 2, "interpolate": "catmull-rom"},
     "encoding": {
      "x": {"field": "E", "type": "quantitative", "scale": {"domain": [-0.6, 0.6], "nice": false, "zero": false}, "axis": {"title": "Time", "values": [-0.6,-0.56,-0.52,-0.48,-0.44,-0.4,-0.36,-0.32,-0.28,-0.24,-0.2,-0.16,-0.12,-0.08,-0.04,0,0.04,0.08,0.12,0.16,0.2,0.24,0.28,0.32,0.36,0.4,0.44,0.48,0.52,0.56,0.6], "format": "~g", "labelFlush": false, "labelOverlap": false, "labelExpr": "abs(datum.value*5-round(datum.value*5))<0.000001 ? datum.label : ''", "gridColor": {"condition": {"test": "abs(datum.value*5-round(datum.value*5))<0.000001", "value": "#b9b91a"}, "value": "#5f5f08"}, "tickColor": {"condition": {"test": "abs(datum.value*5-round(datum.value*5))<0.000001", "value": "#333333"}, "value": "transparent"}}},
      "y": {"field": "I", "type": "quantitative", "scale": {"domain": [-0.0004, 0.0004], "nice": false, "zero": false}, "axis": {"title": "Current (A)", "values": [-0.0004,-0.00038,-0.00036,-0.00034,-0.00032,-0.0003,-0.00028,-0.00026,-0.00024,-0.00022,-0.0002,-0.00018,-0.00016,-0.00014,-0.00012,-0.0001,-0.00008,-0.00006,-0.00004,-0.00002,0,0.00002,0.00004,0.00006,0.00008,0.0001,0.00012,0.00014,0.00016,0.00018,0.0002,0.00022,0.00024,0.00026,0.00028,0.0003,0.00032,0.00034,0.00036,0.00038,0.0004], "format": "~g", "labelFlush": false, "labelOverlap": false, "labelExpr": "abs(datum.value*10000-round(datum.value*10000))<0.000001 ? datum.label : ''", "gridColor": {"condition": {"test": "abs(datum.value*10000-round(datum.value*10000))<0.000001", "value": "#b9b91a"}, "value": "#5f5f08"}, "tickColor": {"condition": {"test": "abs(datum.value*10000-round(datum.value*10000))<0.000001", "value": "#333333"}, "value": "transparent"}}},
      "order": {"field": "n", "type": "quantitative"}
     }},
    {"width": 217, "height": 254, "title": {"text": "Sensor 5", "orient": "left", "anchor": "end", "font": "DejaVu Sans", "fontSize": 15, "fontWeight": "normal", "color": "#333333", "offset": 2}, "data": {"name": "cv"}, "transform": [{"filter": "datum.sensor === 'Sensor 5'"}], "mark": {"type": "line", "color": "#efefe9", "strokeWidth": 2, "interpolate": "catmull-rom"},
     "encoding": {
      "x": {"field": "E", "type": "quantitative", "scale": {"domain": [-0.6, 0.6], "nice": false, "zero": false}, "axis": {"title": "Time", "values": [-0.6,-0.56,-0.52,-0.48,-0.44,-0.4,-0.36,-0.32,-0.28,-0.24,-0.2,-0.16,-0.12,-0.08,-0.04,0,0.04,0.08,0.12,0.16,0.2,0.24,0.28,0.32,0.36,0.4,0.44,0.48,0.52,0.56,0.6], "format": "~g", "labelFlush": false, "labelOverlap": false, "labelExpr": "abs(datum.value*5-round(datum.value*5))<0.000001 ? datum.label : ''", "gridColor": {"condition": {"test": "abs(datum.value*5-round(datum.value*5))<0.000001", "value": "#b9b91a"}, "value": "#5f5f08"}, "tickColor": {"condition": {"test": "abs(datum.value*5-round(datum.value*5))<0.000001", "value": "#333333"}, "value": "transparent"}}},
      "y": {"field": "I", "type": "quantitative", "scale": {"domain": [-0.0004, 0.0004], "nice": false, "zero": false}, "axis": {"title": "Current (A)", "values": [-0.0004,-0.00038,-0.00036,-0.00034,-0.00032,-0.0003,-0.00028,-0.00026,-0.00024,-0.00022,-0.0002,-0.00018,-0.00016,-0.00014,-0.00012,-0.0001,-0.00008,-0.00006,-0.00004,-0.00002,0,0.00002,0.00004,0.00006,0.00008,0.0001,0.00012,0.00014,0.00016,0.00018,0.0002,0.00022,0.00024,0.00026,0.00028,0.0003,0.00032,0.00034,0.00036,0.00038,0.0004], "format": "~g", "labelFlush": false, "labelOverlap": false, "labelExpr": "abs(datum.value*10000-round(datum.value*10000))<0.000001 ? datum.label : ''", "gridColor": {"condition": {"test": "abs(datum.value*10000-round(datum.value*10000))<0.000001", "value": "#b9b91a"}, "value": "#5f5f08"}, "tickColor": {"condition": {"test": "abs(datum.value*10000-round(datum.value*10000))<0.000001", "value": "#333333"}, "value": "transparent"}}},
      "order": {"field": "n", "type": "quantitative"}
     }},
    {"width": 217, "height": 254, "title": {"text": "Sensor 6", "orient": "left", "anchor": "end", "font": "DejaVu Sans", "fontSize": 15, "fontWeight": "normal", "color": "#333333", "offset": 2}, "data": {"name": "cv"}, "transform": [{"filter": "datum.sensor === 'Sensor 6'"}], "mark": {"type": "line", "color": "#efefe9", "strokeWidth": 2, "interpolate": "catmull-rom"},
     "encoding": {
      "x": {"field": "E", "type": "quantitative", "scale": {"domain": [-0.6, 0.6], "nice": false, "zero": false}, "axis": {"title": "Time", "values": [-0.6,-0.56,-0.52,-0.48,-0.44,-0.4,-0.36,-0.32,-0.28,-0.24,-0.2,-0.16,-0.12,-0.08,-0.04,0,0.04,0.08,0.12,0.16,0.2,0.24,0.28,0.32,0.36,0.4,0.44,0.48,0.52,0.56,0.6], "format": "~g", "labelFlush": false, "labelOverlap": false, "labelExpr": "abs(datum.value*5-round(datum.value*5))<0.000001 ? datum.label : ''", "gridColor": {"condition": {"test": "abs(datum.value*5-round(datum.value*5))<0.000001", "value": "#b9b91a"}, "value": "#5f5f08"}, "tickColor": {"condition": {"test": "abs(datum.value*5-round(datum.value*5))<0.000001", "value": "#333333"}, "value": "transparent"}}},
      "y": {"field": "I", "type": "quantitative", "scale": {"domain": [-0.0004, 0.0004], "nice": false, "zero": false}, "axis": {"title": "Current (A)", "values": [-0.0004,-0.00038,-0.00036,-0.00034,-0.00032,-0.0003,-0.00028,-0.00026,-0.00024,-0.00022,-0.0002,-0.00018,-0.00016,-0.00014,-0.00012,-0.0001,-0.00008,-0.00006,-0.00004,-0.00002,0,0.00002,0.00004,0.00006,0.00008,0.0001,0.00012,0.00014,0.00016,0.00018,0.0002,0.00022,0.00024,0.00026,0.00028,0.0003,0.00032,0.00034,0.00036,0.00038,0.0004], "format": "~g", "labelFlush": false, "labelOverlap": false, "labelExpr": "abs(datum.value*10000-round(datum.value*10000))<0.000001 ? datum.label : ''", "gridColor": {"condition": {"test": "abs(datum.value*10000-round(datum.value*10000))<0.000001", "value": "#b9b91a"}, "value": "#5f5f08"}, "tickColor": {"condition": {"test": "abs(datum.value*10000-round(datum.value*10000))<0.000001", "value": "#333333"}, "value": "transparent"}}},
      "order": {"field": "n", "type": "quantitative"}
     }}
   ]
  }
 ]
}
